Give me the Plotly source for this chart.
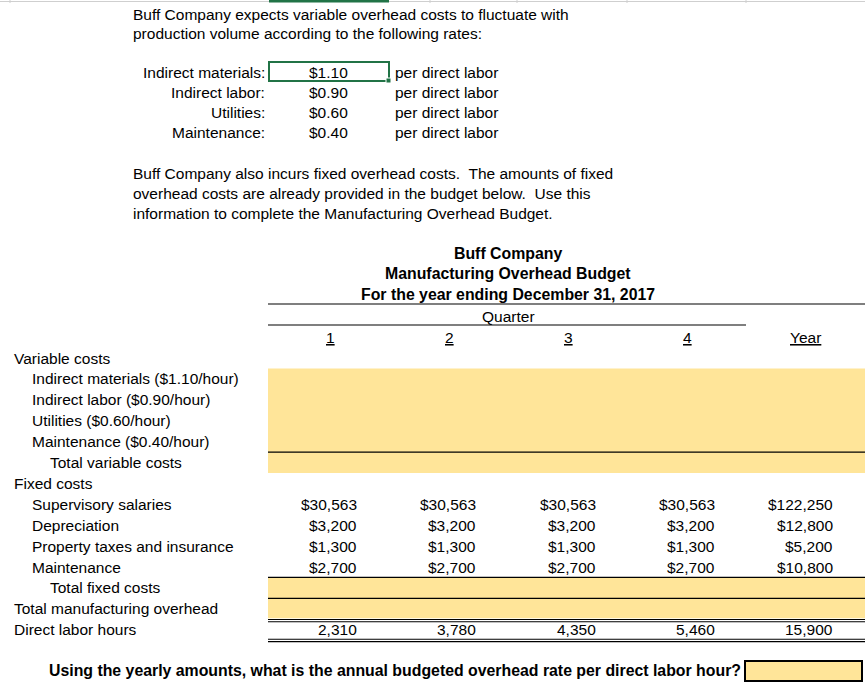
import plotly.graph_objects as go

# ---------------- data ----------------
intro_lines = [
    "Buff Company expects variable overhead costs to fluctuate with",
    "production volume according to the following rates:",
]
rate_labels = ["Indirect materials:", "Indirect labor:", "Utilities:", "Maintenance:"]
rate_names = ["Indirect materials", "Indirect labor", "Utilities", "Maintenance"]
rates = [1.10, 0.90, 0.60, 0.40]
rate_unit = "per direct labor"
fixed_text_lines = [
    "Buff Company also incurs fixed overhead costs.  The amounts of fixed",
    "overhead costs are already provided in the budget below.  Use this",
    "information to complete the Manufacturing Overhead Budget.",
]
title_lines = ["Buff Company", "Manufacturing Overhead Budget", "For the year ending December 31, 2017"]
column_labels = ["1", "2", "3", "4", "Year"]
fixed_items = ["Supervisory salaries", "Depreciation", "Property taxes and insurance", "Maintenance"]
supervisory_salaries = [30563, 30563, 30563, 30563, 122250]
depreciation = [3200, 3200, 3200, 3200, 12800]
property_taxes = [1300, 1300, 1300, 1300, 5200]
maintenance_fixed = [2700, 2700, 2700, 2700, 10800]
direct_labor_hours = [2310, 3780, 4350, 5460, 15900]
question = "Using the yearly amounts, what is the annual budgeted overhead rate per direct labor hour?"

# ---------------- layout constants ----------------
W, H = 865, 699
FONT = "Liberation Sans, Arial, sans-serif"
FS = 15.5
FSB = 15.85
TXT = "#000000"
YELLOW = "#FFE599"
GREEN = "#217346"
ROW0 = 358.0      # y of "Variable costs"
RH = 20.9         # row height
col_right = [357, 476, 596, 715, 833]
col_center = [330, 449, 568, 687, 805]
table_left, table_right = 268, 865

def ry(k):
    return ROW0 + RH * k

def money(v):
    return "${:,.0f}".format(v)

ann = []
def text(x, y, s, anchor="left", bold=False, under=False):
    f = dict(family=FONT, size=FSB if bold else FS, color=TXT)
    if under:
        f["lineposition"] = "under"
    ann.append(dict(x=x, y=y, xref="x", yref="y", text=("<b>%s</b>" % s) if bold else s,
                    showarrow=False, xanchor=anchor, yanchor="middle", font=f,
                    borderpad=0, borderwidth=0))

shapes = []
def hline(x0, x1, y, color="#000000", w=1.2):
    shapes.append(dict(type="line", x0=x0, x1=x1, y0=y, y1=y, xref="x", yref="y",
                       line=dict(color=color, width=w)))
def rect(x0, y0, x1, y1, fill, line=None, lw=0):
    shapes.append(dict(type="rect", x0=x0, x1=x1, y0=y0, y1=y1, xref="x", yref="y",
                       fillcolor=fill, line=dict(color=line or fill, width=lw), layer="below"))

# top spreadsheet header edge
hline(0, W, 1.5, color="#cfcfcf", w=1)
for tx in [10, 430, 517, 627, 746]:
    shapes.append(dict(type="line", x0=tx, x1=tx, y0=0, y1=3, xref="x", yref="y",
                       line=dict(color="#cfcfcf", width=1)))
shapes.append(dict(type="line", x0=269, x1=389, y0=1, y1=1, xref="x", yref="y",
                   line=dict(color=GREEN, width=3)))

# intro text
for i, s in enumerate(intro_lines):
    text(133, 14 + 19.5 * i, s)

# rates block
for i, (lab, r) in enumerate(zip(rate_labels, rates)):
    y = 72 + 20 * i
    text(265, y, lab, anchor="right")
    text(328, y, "${:.2f}".format(r), anchor="center")
    text(395, y, rate_unit)
# selected cell box
shapes.append(dict(type="rect", x0=269, x1=389, y0=62, y1=81, xref="x", yref="y",
                   line=dict(color=GREEN, width=2), fillcolor="rgba(0,0,0,0)"))
shapes.append(dict(type="rect", x0=386, x1=391, y0=78, y1=83, xref="x", yref="y",
                   line=dict(color="#ffffff", width=1), fillcolor=GREEN))

for i, s in enumerate(fixed_text_lines):
    text(133, 173 + 20 * i, s)

# titles
for i, s in enumerate(title_lines):
    text(508, 253 + 20.5 * i, s, anchor="center", bold=True)
hline(table_left, table_right, 304)
text(508, 316, "Quarter", anchor="center")
hline(table_left, 746, 325)
for c, lab in zip(col_center, column_labels):
    text(c, 337, lab, anchor="center", under=True)

# yellow input areas
rect(table_left, ry(1) - RH / 2, table_right, ry(6) - RH / 2, YELLOW)
hline(table_left, table_right, ry(5) - RH / 2)
rect(table_left, ry(11) - RH / 2, table_right, ry(13) - RH / 2 - 1, YELLOW)
hline(table_left, table_right, ry(11) - RH / 2)
hline(table_left, table_right, ry(12) - RH / 2)

# row labels
text(14, ry(0), "Variable costs")
for i, (n, r) in enumerate(zip(rate_names, rates)):
    text(32, ry(1 + i), "{} (${:.2f}/hour)".format(n, r))
text(50, ry(5), "Total variable costs")
text(14, ry(6), "Fixed costs")
for i, n in enumerate(fixed_items):
    text(32, ry(7 + i), n)
text(50, ry(11), "Total fixed costs")
text(14, ry(12), "Total manufacturing overhead")
text(14, ry(13), "Direct labor hours")

# fixed cost values
for k, series in enumerate([supervisory_salaries, depreciation, property_taxes, maintenance_fixed]):
    for x, v in zip(col_right, series):
        text(x, ry(7 + k), money(v), anchor="right")
for x, v in zip(col_right, direct_labor_hours):
    text(x, ry(13), "{:,.0f}".format(v), anchor="right")

# double lines around direct labor hours
hline(table_left, table_right, 619.5, w=1.1)
hline(table_left, table_right, 621.8, w=1.1)
hline(table_left, table_right, 639.3, w=1.1)
hline(table_left, table_right, 641.6, w=1.1)

# question and answer box
text(741, 670, question, anchor="right", bold=True)
shapes.append(dict(type="rect", x0=745, x1=862, y0=661, y1=681, xref="x", yref="y",
                   line=dict(color="#000000", width=2), fillcolor=YELLOW))

fig = go.Figure()
fig.add_trace(go.Scatter(x=[0, W], y=[0, H], mode="markers", marker=dict(opacity=0),
                         hoverinfo="skip", showlegend=False))
fig.update_layout(
    width=W, height=H, margin=dict(l=0, r=0, t=0, b=0),
    paper_bgcolor="#ffffff", plot_bgcolor="#ffffff",
    xaxis=dict(range=[0, W], visible=False, fixedrange=True),
    yaxis=dict(range=[H, 0], visible=False, fixedrange=True),
    annotations=ann, shapes=shapes, showlegend=False,
)
fig.write_html("out.html", config={"displayModeBar": False, "staticPlot": True},
               post_script="document.body.style.margin='0';document.body.style.overflow='hidden';")
